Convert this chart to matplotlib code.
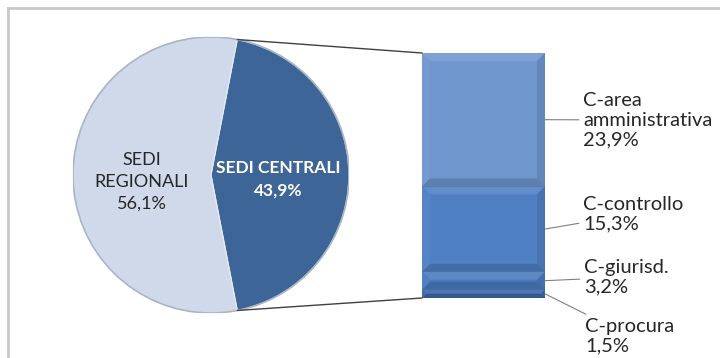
import numpy as np
import matplotlib.pyplot as plt
from matplotlib.patches import Polygon, ConnectionPatch
from matplotlib.colors import to_rgb

plt.rcParams['font.family'] = ['Lato', 'DejaVu Sans']

# pie: central vs regional offices
pie_labels = ["SEDI CENTRALI", "SEDI\nREGIONALI"]
pie_values = [43.9, 56.1]
pie_colors = ["#3e6597", "#cfd9ea"]

# breakdown of the central share (bottom to top)
bar_labels = ["C-procura", "C-giurisd.", "C-controllo", "C-area\namministrativa"]
bar_values = [1.5, 3.2, 15.3, 23.9]
bar_colors = ["#3b68a6", "#4a7bbd", "#4f80c3", "#6f96cd"]


def pct(v):
    return f"{v:.1f}%".replace(".", ",")


W, H = 720, 358
fig = plt.figure(figsize=(W / 100, H / 100), dpi=100)
fig.patch.set_facecolor("white")

# outer frame (left and top edges)
fig.add_artist(plt.Line2D([8 / W, 8 / W], [0, 1 - 8 / H], color="#c8c8c8", lw=2))
fig.add_artist(plt.Line2D([8 / W, 1], [1 - 8 / H, 1 - 8 / H], color="#c8c8c8", lw=2))

# ---- pie ----
cx, cy, r = 211, 175, 138
ax_pie = fig.add_axes([(cx - r) / W, (H - cy - r) / H, 2 * r / W, 2 * r / H])
half = pie_values[0] / 100 * 360 / 2
wedges, _ = ax_pie.pie(pie_values, colors=pie_colors, startangle=half,
                       counterclock=False, radius=1,
                       wedgeprops=dict(edgecolor="#e8eef7", linewidth=0.8))
ax_pie.set_xlim(-1, 1)
ax_pie.set_ylim(-1, 1)
ax_pie.set_aspect("equal")
ax_pie.axis("off")

# soft rim around the pie
ax_pie.add_patch(plt.Circle((0, 0), 1, fill=False, edgecolor="#a9b4c6", lw=1.2))

ax_pie.text(0.485, -0.03, f"{pie_labels[0]}\n{pct(pie_values[0])}",
            ha="center", va="center", color="white", fontsize=12.5,
            fontweight="bold", linespacing=1.45)
ax_pie.text(-0.5, -0.05, f"{pie_labels[1]}\n{pct(pie_values[1])}",
            ha="center", va="center", color="#262626", fontsize=13,
            linespacing=1.45)

# ---- stacked bar ----
bx0, bx1, by0, by1 = 422, 545, 53, 298
ax_bar = fig.add_axes([bx0 / W, (H - by1) / H, (bx1 - bx0) / W, (by1 - by0) / H])
total = sum(bar_values)
ax_bar.set_xlim(0, 1)
ax_bar.set_ylim(0, total)
ax_bar.axis("off")

bottoms = np.cumsum([0] + bar_values[:-1])
ax_bar.bar([0.5] * len(bar_values), bar_values, width=1, bottom=bottoms,
           color=bar_colors, edgecolor="#34568a", linewidth=0.6)


def shade(c, f):
    c = np.array(to_rgb(c))
    return tuple(np.clip(c * f if f < 1 else c + (1 - c) * (f - 1), 0, 1))


# bevelled edges on each segment
bw_x = 8 / (bx1 - bx0)
bw_y = 8 * total / (by1 - by0)
for b, v, c in zip(bottoms, bar_values, bar_colors):
    t = min(bw_y, v / 2)
    s = min(bw_x, v / 2 * (bw_x / bw_y))
    y0, y1 = b, b + v
    top = [(0, y1), (1, y1), (1 - s, y1 - t), (s, y1 - t)]
    bot = [(0, y0), (1, y0), (1 - s, y0 + t), (s, y0 + t)]
    left = [(0, y0), (s, y0 + t), (s, y1 - t), (0, y1)]
    right = [(1, y0), (1 - s, y0 + t), (1 - s, y1 - t), (1, y1)]
    for pts, f in [(top, 1.1), (bot, 0.85), (left, 1.04), (right, 0.9)]:
        ax_bar.add_patch(Polygon(pts, closed=True, facecolor=shade(c, f),
                                 edgecolor="none"))

# connectors between pie and bar
theta = np.deg2rad(half)
for sgn, yb in [(1, total), (-1, 0)]:
    con = ConnectionPatch(xyA=(np.cos(theta), sgn * np.sin(theta)), coordsA=ax_pie.transData,
                          xyB=(0, yb), coordsB=ax_bar.transData,
                          color="#404040", lw=1)
    fig.add_artist(con)

# segment labels with leader lines
label_pos = [(585, 336), (584, 277), (583, 214), (583, 120)]
for lab, v, b, (tx, ty) in zip(bar_labels, bar_values, bottoms, label_pos):
    ax_bar.annotate(f"{lab}\n{pct(v)}", xy=(1, b + v / 2), xycoords="data",
                    xytext=(tx, H - ty), textcoords="figure pixels",
                    ha="left", va="center", fontsize=14.5, color="#262626",
                    linespacing=1.2,
                    arrowprops=dict(arrowstyle="-", color="#7f7f7f", lw=0.8,
                                    shrinkA=1, shrinkB=0))

fig.savefig("out.png", dpi=100)
